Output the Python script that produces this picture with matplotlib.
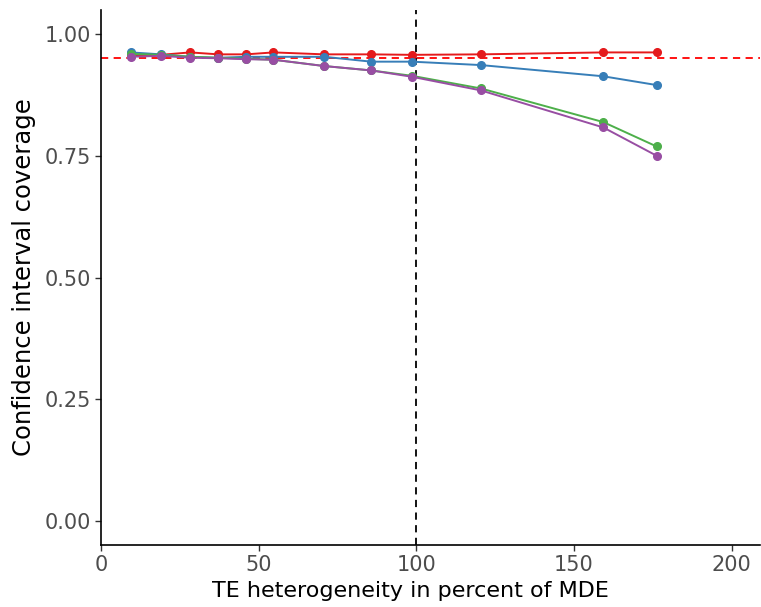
import matplotlib
matplotlib.use('Agg')
import matplotlib.pyplot as plt

plt.rcParams['font.family'] = ['DejaVu Sans']

# TE heterogeneity in percent of MDE
het = [9.5, 19.0, 28.3, 37.2, 46.0, 54.7, 70.8, 85.7, 98.6, 120.5, 159.3, 176.2]

# coverage per method
cov_red = [0.955, 0.957, 0.962, 0.958, 0.958, 0.962, 0.958, 0.958, 0.957, 0.958, 0.962, 0.962]
cov_blue = [0.962, 0.958, 0.953, 0.951, 0.953, 0.953, 0.953, 0.943, 0.943, 0.936, 0.913, 0.895]
cov_green = [0.959, 0.957, 0.953, 0.951, 0.949, 0.947, 0.934, 0.925, 0.914, 0.888, 0.819, 0.769]
cov_purple = [0.953, 0.955, 0.951, 0.950, 0.948, 0.947, 0.934, 0.925, 0.912, 0.884, 0.808, 0.750]

series = [
    (cov_red, '#E41A1C'),
    (cov_blue, '#377EB8'),
    (cov_green, '#4DAF4A'),
    (cov_purple, '#984EA3'),
]

fig = plt.figure(figsize=(7.61, 6.07), dpi=100)
ax = fig.add_axes([0.1327, 0.1021, 0.866, 0.8814])

# nominal coverage and the MDE line
ax.axhline(0.95, color='#FF0000', linestyle=(0, (4, 3)), linewidth=1.3, zorder=1)
ax.axvline(100, color='black', linestyle=(0, (4, 3)), linewidth=1.3, zorder=1)

for vals, col in series:
    ax.plot(het, vals, color=col, linewidth=1.4, marker='o', markersize=5.5, zorder=2)

ax.set_xlim(0, 209)
ax.set_ylim(-0.049, 1.049)
ax.set_xticks([0, 50, 100, 150, 200])
ax.set_yticks([0, 0.25, 0.5, 0.75, 1.0])
ax.set_yticklabels(['0.00', '0.25', '0.50', '0.75', '1.00'])

for s in ['top', 'right']:
    ax.spines[s].set_visible(False)
for s in ['left', 'bottom']:
    ax.spines[s].set_linewidth(1.2)
ax.tick_params(labelsize=15, labelcolor='#4D4D4D', length=4, width=1, color='#333333')

ax.set_xlabel('TE heterogeneity in percent of MDE', fontsize=16, labelpad=2)
ax.xaxis.set_label_coords(0.469, -0.068)
ax.set_ylabel('Confidence interval coverage', fontsize=17.5, labelpad=6)

fig.savefig('out.png', dpi=100)
